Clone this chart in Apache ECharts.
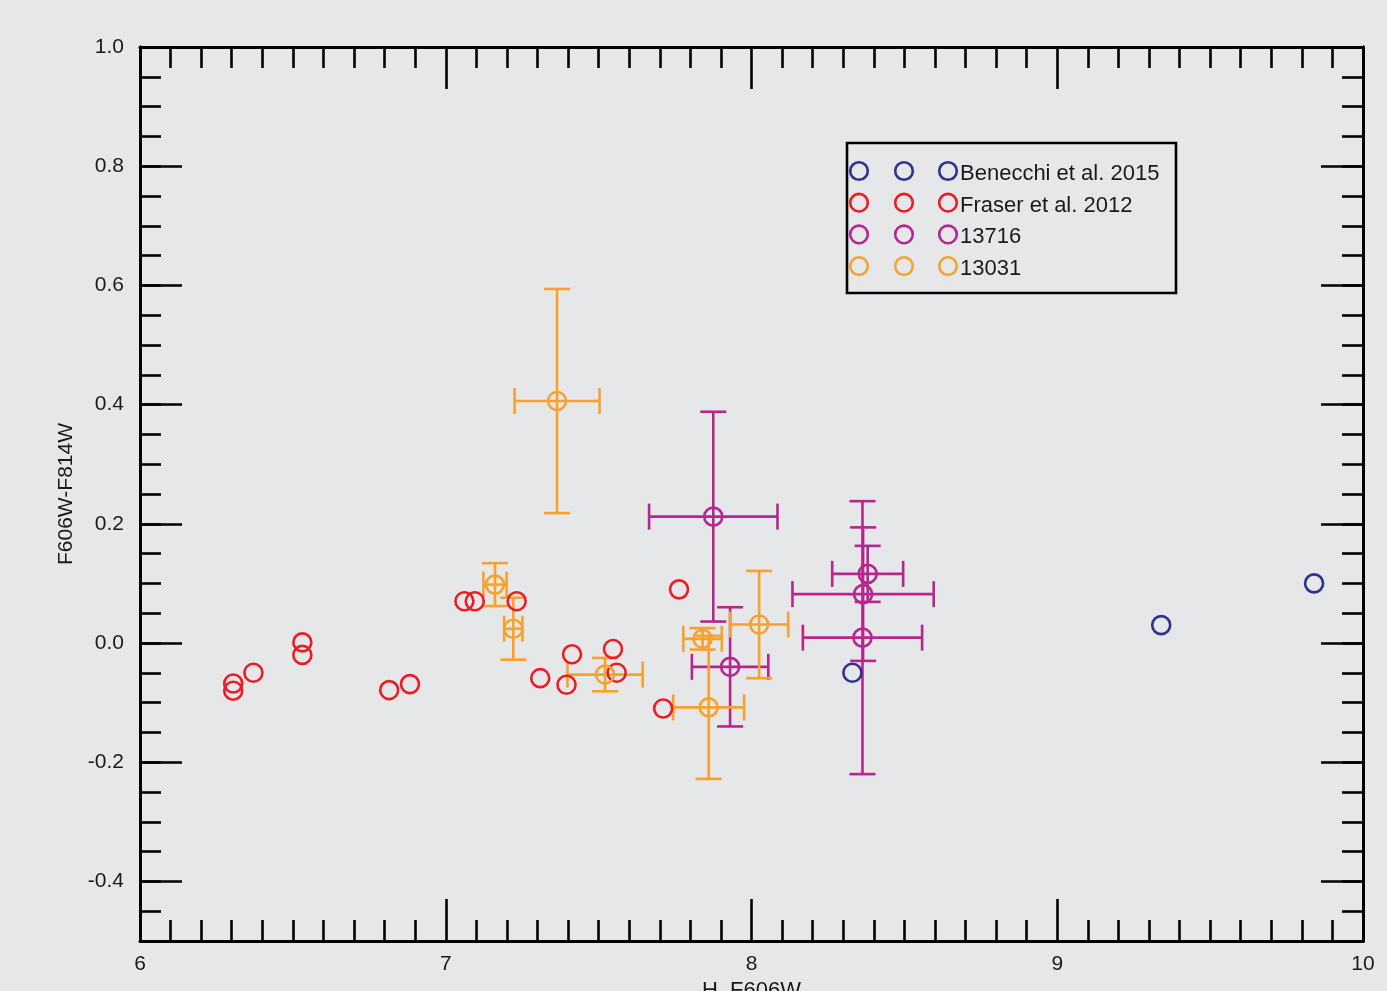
<!DOCTYPE html>
<html>
<head>
<meta charset="utf-8">
<script src="https://cdn.jsdelivr.net/npm/echarts@6/dist/echarts.min.js"></script>
<style>
html,body{margin:0;padding:0;background:#e6e7e8;}
#chart{width:1387px;height:991px;}
</style>
</head>
<body>
<div id="chart"></div>
<script>
// ---- data ----
const seriesNames = ['Benecchi et al. 2015', 'Fraser et al. 2012', '13716', '13031'];
const seriesColors = ['#2e3192', '#ed1c24', '#b5268f', '#f7a12e'];

const benecchiX = [8.33, 9.34, 9.84];
const benecchiY = [-0.05, 0.03, 0.10];

const fraserX = [6.305, 6.305, 6.371, 6.531, 6.531, 6.815, 6.883, 7.061, 7.095, 7.232, 7.309, 7.395, 7.413, 7.547, 7.559, 7.763, 7.711];
const fraserY = [-0.068, -0.080, -0.050, 0.001, -0.020, -0.079, -0.069, 0.070, 0.070, 0.070, -0.059, -0.070, -0.019, -0.010, -0.050, 0.090, -0.110];

const p13716X = [7.875, 7.930, 8.380, 8.365, 8.363];
const p13716Y = [0.212, -0.040, 0.116, 0.082, 0.009];
const p13716XErr = [0.210, 0.125, 0.116, 0.231, 0.195];
const p13716YErr = [0.176, 0.100, 0.047, 0.112, 0.229];

const p13031X = [7.364, 7.161, 7.221, 7.521, 7.840, 7.860, 8.025];
const p13031Y = [0.406, 0.098, 0.024, -0.053, 0.007, -0.108, 0.031];
const p13031XErr = [0.139, 0.038, 0.030, 0.123, 0.063, 0.116, 0.095];
const p13031YErr = [0.188, 0.036, 0.052, 0.028, 0.018, 0.120, 0.090];

const xTickValues = [6, 7, 8, 9, 10];
const yTickValues = [-0.4, -0.2, 0.0, 0.2, 0.4, 0.6, 0.8, 1.0];
const xAxisTitle = 'H_F606W';
const yAxisTitle = 'F606W-F814W';

// ---- build ----
const FONT = '"Liberation Sans", Arial, sans-serif';
const TXT = '#1a1a1a';
const zip = (a, b) => a.map((v, i) => [v, b[i]]);
const zip4 = (a, b, c, d) => a.map((v, i) => [v, b[i], c[i], d[i]]);

function errRender(color) {
  return function (params, api) {
    const x = api.value(0), y = api.value(1), xe = api.value(2), ye = api.value(3);
    const l = api.coord([x - xe, y]), r = api.coord([x + xe, y]);
    const t = api.coord([x, y + ye]), b = api.coord([x, y - ye]);
    const h = 13;
    const st = { stroke: color, lineWidth: 2.6, fill: null };
    const line = (x1, y1, x2, y2) => ({ type: 'line', shape: { x1, y1, x2, y2 }, style: st, silent: true });
    return {
      type: 'group',
      children: [
        line(l[0], l[1], r[0], r[1]),
        line(l[0], l[1] - h, l[0], l[1] + h),
        line(r[0], r[1] - h, r[0], r[1] + h),
        line(t[0], t[1], b[0], b[1]),
        line(t[0] - h, t[1], t[0] + h, t[1]),
        line(b[0] - h, b[1], b[0] + h, b[1])
      ]
    };
  };
}

function scatter(name, data, color) {
  return {
    name, type: 'scatter', data, symbol: 'circle', symbolSize: 18,
    itemStyle: { color: 'rgba(0,0,0,0)', borderColor: color, borderWidth: 2.6, opacity: 1 },
    emphasis: { disabled: true }, z: 3
  };
}
function errSeries(name, data, color) {
  return {
    name, type: 'custom', data, renderItem: errRender(color),
    encode: { x: 0, y: 1 }, z: 2, clip: false
  };
}

const axisLine = { show: true, onZero: false, lineStyle: { color: '#000', width: 3 } };
const tickStyle = { color: '#000', width: 2.6 };

const xBase = (pos, showLabel) => ({
  type: 'value', position: pos, min: 6, max: 10, interval: 1,
  axisLine, splitLine: { show: false }, minorSplitLine: { show: false },
  axisTick: { show: true, inside: true, length: 42, lineStyle: tickStyle },
  minorTick: { show: true, splitNumber: 10, length: 21, lineStyle: tickStyle },
  axisLabel: { show: showLabel, fontSize: 21, fontFamily: FONT, color: TXT, margin: 13,
    formatter: v => (xTickValues.indexOf(v) >= 0 ? String(v) : '') }
});

const isMajorY = v => yTickValues.some(t => Math.abs(t - v) < 1e-6);
const yMinor = (pos, showLabel) => ({
  type: 'value', position: pos, min: -0.5, max: 1.0, interval: 0.05,
  axisLine, splitLine: { show: false },
  axisTick: { show: true, inside: true, length: 21, lineStyle: tickStyle },
  axisLabel: { show: showLabel, fontSize: 21, fontFamily: FONT, color: TXT, margin: 16,
    formatter: v => (isMajorY(v) ? v.toFixed(1) : '') }
});
const yMajor = (pos) => ({
  type: 'value', position: pos, min: -0.5, max: 1.0, interval: 0.05,
  axisLine, splitLine: { show: false },
  axisTick: { show: true, inside: true, length: 42, lineStyle: tickStyle, customValues: yTickValues },
  axisLabel: { show: false }
});

const legendX = 847, legendY = 143;
const graphics = [{
  type: 'rect', shape: { x: legendX, y: legendY, width: 329, height: 150 },
  style: { fill: null, stroke: '#000', lineWidth: 2.6 }, z: 10
}];
seriesNames.forEach((n, i) => {
  const cy = 171 + i * 31.7;
  [859, 904, 948].forEach(cx => graphics.push({
    type: 'circle', shape: { cx, cy, r: 8.8 },
    style: { fill: null, stroke: seriesColors[i], lineWidth: 2.6 }, z: 10
  }));
  graphics.push({
    type: 'text', x: 960, y: cy + 3,
    style: { text: n, font: '22px ' + FONT, fill: TXT, verticalAlign: 'middle', align: 'left' }, z: 10
  });
});

const option = {
  backgroundColor: '#e6e7e8',
  animation: false,
  grid: { left: 140, right: 24, top: 47, bottom: 50, containLabel: false, outerBoundsMode: 'none' },
  xAxis: [
    Object.assign(xBase('bottom', true), {
      name: xAxisTitle, nameLocation: 'middle', nameGap: 36,
      nameTextStyle: { fontSize: 22, fontFamily: FONT, color: TXT }
    }),
    xBase('top', false)
  ],
  yAxis: [
    Object.assign(yMinor('left', true), {
      name: yAxisTitle, nameLocation: 'middle', nameGap: 62, nameRotate: 90,
      nameTextStyle: { fontSize: 21, fontFamily: FONT, color: TXT }
    }),
    yMajor('left'),
    yMinor('right', false),
    yMajor('right')
  ],
  graphic: graphics,
  series: [
    scatter(seriesNames[0], zip(benecchiX, benecchiY), seriesColors[0]),
    scatter(seriesNames[1], zip(fraserX, fraserY), seriesColors[1]),
    errSeries(seriesNames[2], zip4(p13716X, p13716Y, p13716XErr, p13716YErr), seriesColors[2]),
    scatter(seriesNames[2], zip(p13716X, p13716Y), seriesColors[2]),
    errSeries(seriesNames[3], zip4(p13031X, p13031Y, p13031XErr, p13031YErr), seriesColors[3]),
    scatter(seriesNames[3], zip(p13031X, p13031Y), seriesColors[3])
  ]
};

const chart = echarts.init(document.getElementById('chart'), null, { renderer: 'canvas' });
chart.setOption(option);
</script>
</body>
</html>
